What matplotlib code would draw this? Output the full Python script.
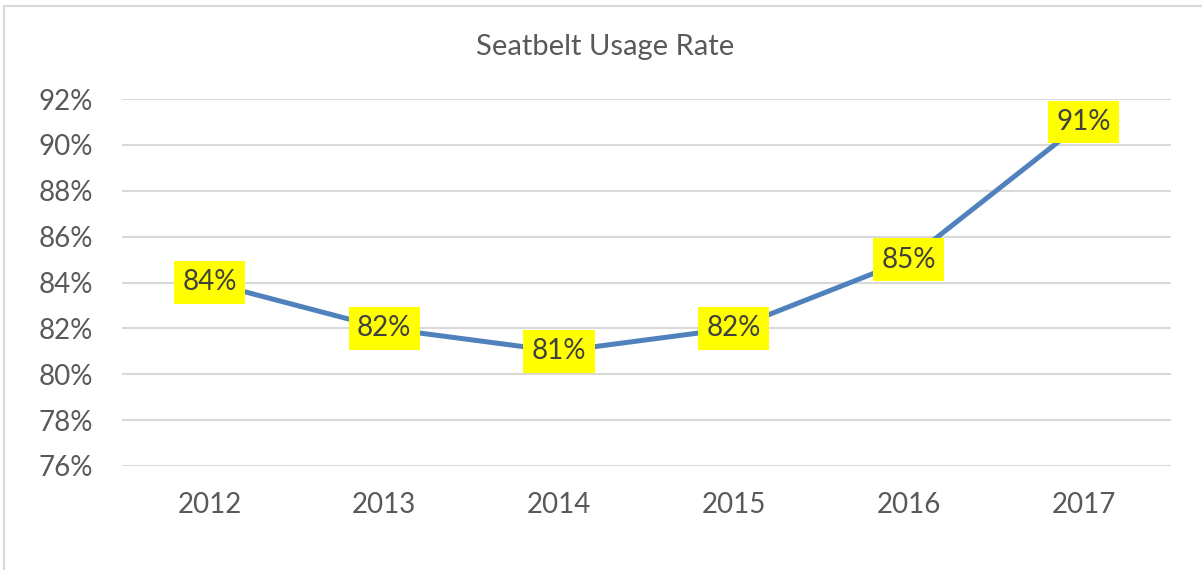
import matplotlib.pyplot as plt
from matplotlib.patches import Rectangle

years = ["2012", "2013", "2014", "2015", "2016", "2017"]
usage = [84, 82, 81, 82, 85, 91]
y_ticks = [76, 78, 80, 82, 84, 86, 88, 90, 92]

plt.rcParams['font.family'] = ['Lato', 'DejaVu Sans']
text_gray = "#595959"

fig = plt.figure(figsize=(12.02, 5.70), dpi=100)
ax = fig.add_axes([122 / 1202, 104 / 570, 1049 / 1202, 367 / 570])

# chart border (only top and left edges are inside the image)
fig.patches.append(Rectangle((4 / 1202, -0.1), 1.2, (564 / 570) + 0.1,
                             transform=fig.transFigure, fill=False,
                             edgecolor="#D9D9D9", linewidth=1.5))

x = list(range(len(years)))
ax.plot(x, usage, color="#4F81BD", linewidth=3.6, solid_capstyle="round", zorder=3)

for xi, v in zip(x, usage):
    ax.text(xi, v, f"{v}%", ha="center", va="center", fontsize=20,
            color="#404040", zorder=4,
            bbox=dict(boxstyle="square,pad=0.3", facecolor="#FFFF00", edgecolor="none"))

ax.set_xlim(-0.5, len(years) - 0.5)
ax.set_ylim(76, 92)
ax.set_yticks(y_ticks)
ax.set_yticklabels([f"{t}%" for t in y_ticks])
ax.set_xticks(x)
ax.set_xticklabels(years)
ax.tick_params(axis="both", length=0, labelsize=20, labelcolor=text_gray)
ax.tick_params(axis="y", pad=21)
ax.tick_params(axis="x", pad=19)
ax.grid(axis="y", color="#D9D9D9", linewidth=1.5)
ax.set_axisbelow(True)
for s in ax.spines.values():
    s.set_visible(False)

fig.text(605 / 1202, 1 - 47 / 570, "Seatbelt Usage Rate", ha="center", va="center",
         fontsize=21, color=text_gray)

fig.savefig("out.png", dpi=100)
